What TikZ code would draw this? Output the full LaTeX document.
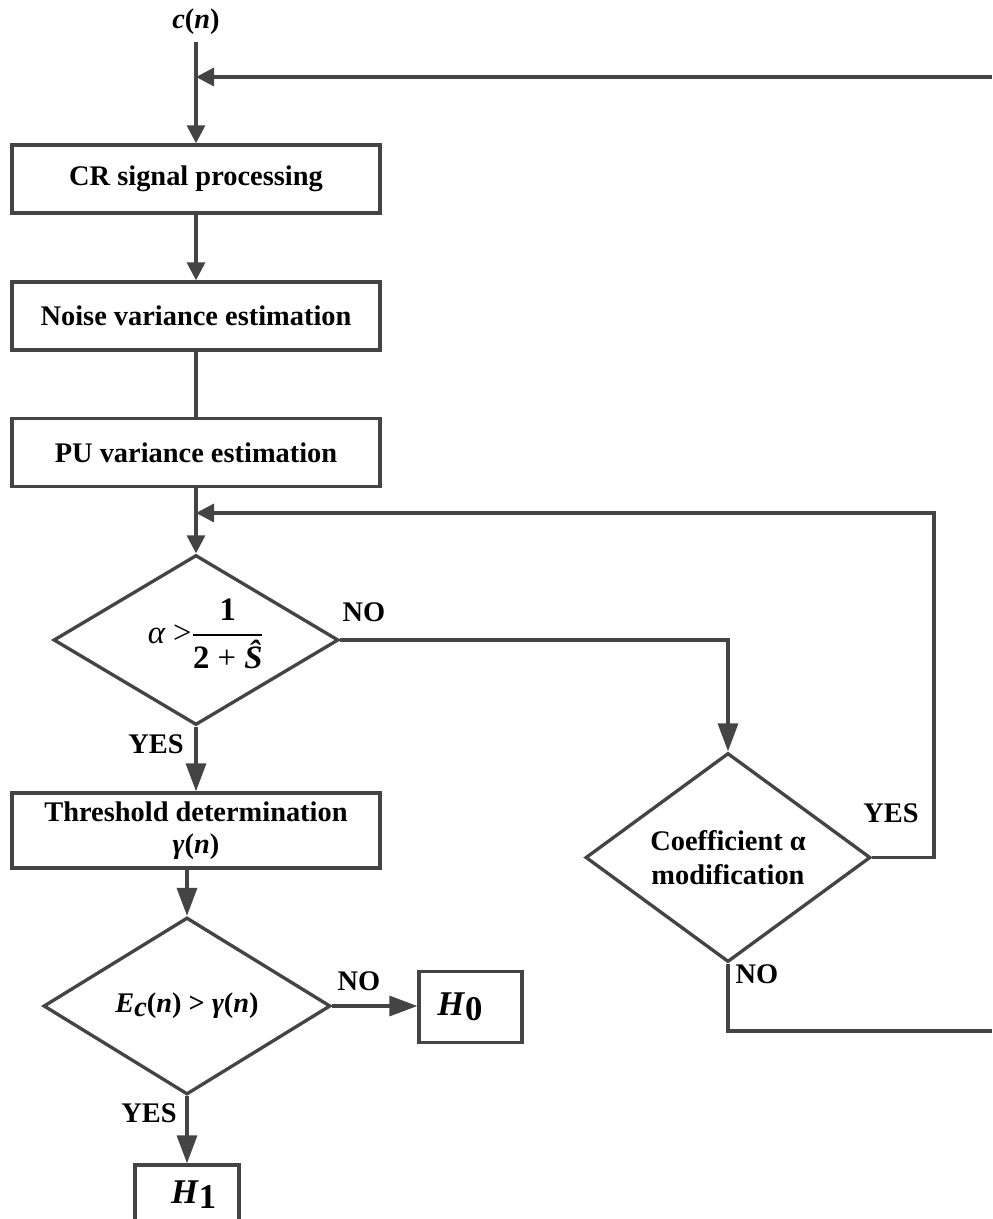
\documentclass[tikz,border=0pt]{standalone}
\usepackage{amsmath}
\usepackage{fontspec}
\setmainfont{Liberation Serif}
\usetikzlibrary{shapes.geometric,arrows.meta}

\definecolor{linegray}{HTML}{444444}
\newcommand\bvar[1]{\textbf{\textit{#1}}}

\begin{document}
\begin{tikzpicture}[x=0.75pt,y=-0.75pt,
  font=\fontsize{21.3}{24}\selectfont\bfseries,
  conn/.style={draw=linegray, line width=2.5pt},
  arrS/.style={-{Triangle[length=13.5pt,width=13.5pt]}},
  arrL/.style={-{Triangle[length=21pt,width=15pt]}},
  procbox/.style={draw=linegray, line width=2.5pt, rectangle, inner sep=0pt,
    minimum width=276pt, minimum height=51pt, align=center, fill=white},
  decision/.style={draw=linegray, line width=2.5pt, diamond, inner sep=0pt,
    align=center, fill=white},
  tag/.style={inner sep=0pt}
]
\clip (0,0) rectangle (992,1219);

% main column of processing steps
\node[inner sep=5pt] (cin) at (196,22) {\bvar{c}(\bvar{n})};
\node[procbox] (cr) at (196,179) {CR signal processing};
\node[procbox] (noise) at (196,316) {Noise variance estimation};
\node[procbox] (pu) at (196,452.5) {PU variance estimation};
\node[decision, minimum width=213.75pt, minimum height=127.5pt] (d1) at (196,640) {};
\node[inner sep=0pt, font=\fontsize{24.5}{28}\selectfont\bfseries] (cond) at (206,634)
  {$\mbox{\mdseries\itshape α}\mbox{\mdseries\ >}\genfrac{}{}{1.2pt}{0}{\mbox{1}}{\mbox{2 {\mdseries+} \bvar{\^S}}}$};
\node[procbox, minimum height=56.25pt] (thr) at (196,830.5)
  {Threshold determination\\ \bvar{γ}(\bvar{n})};
\node[decision, minimum width=215.25pt, minimum height=132.75pt] (d3) at (187,1006)
  {\bvar{E}\raisebox{-0.3ex}{\bvar{c}}(\bvar{n}) > \bvar{γ}(\bvar{n})};
\node[procbox, minimum width=77.25pt, minimum height=53.25pt] (h0) at (470.5,1007)
  {{\fontsize{26}{30}\selectfont\bvar{H}\raisebox{-0.35ex}{\textbf{0}}}\hspace{16pt}};
\node[procbox, minimum width=78pt, minimum height=45pt] (h1) at (187,1195)
  {\hspace{10pt}{\fontsize{26}{30}\selectfont\bvar{H}\raisebox{-0.3ex}{\textbf{1}}}};

% coefficient adjustment branch
\node[decision, minimum width=213.75pt, minimum height=138.75pt,
      font=\fontsize{21.3}{25}\selectfont\bfseries] (d2) at (728,857.5)
  {Coefficient α\\modification};

% loose ends of the feedback paths
\coordinate (topin) at (992,77);
\coordinate (fbr) at (934,513);
\coordinate (botout) at (992,1031);

% connectors
\draw[conn, arrS] (cin.south) -- (cr.north);
\draw[conn, arrS] (topin) -- (cin.south |- topin);
\draw[conn, arrS] (cr.south) -- (noise.north);
\draw[conn] (noise.south) -- (pu.north);
\draw[conn, arrS] (pu.south) -- (d1.north);
\draw[conn, arrL] (d1.east) -| (d2.north);
\draw[conn, arrS] (d2.east) -| (fbr) -- (pu.south |- fbr);
\draw[conn, arrL] (d1.south) -- (thr.north);
\draw[conn, arrL] (thr.south -| d3.north) -- (d3.north);
\draw[conn, arrL] (d3.east) -- (d3.east -| h0.west);
\draw[conn, arrL] (d3.south) -- (h1.north);
\draw[conn] (d2.south) |- (botout);

% branch labels
\node[tag] (no1) at (364,612) {NO};
\node[tag] (yes1) at (156,744) {YES};
\node[tag] (yes2) at (891,813) {YES};
\node[tag] (no2) at (757,974) {NO};
\node[tag] (no3) at (359,981) {NO};
\node[tag] (yes3) at (149,1113) {YES};
\end{tikzpicture}
\end{document}
